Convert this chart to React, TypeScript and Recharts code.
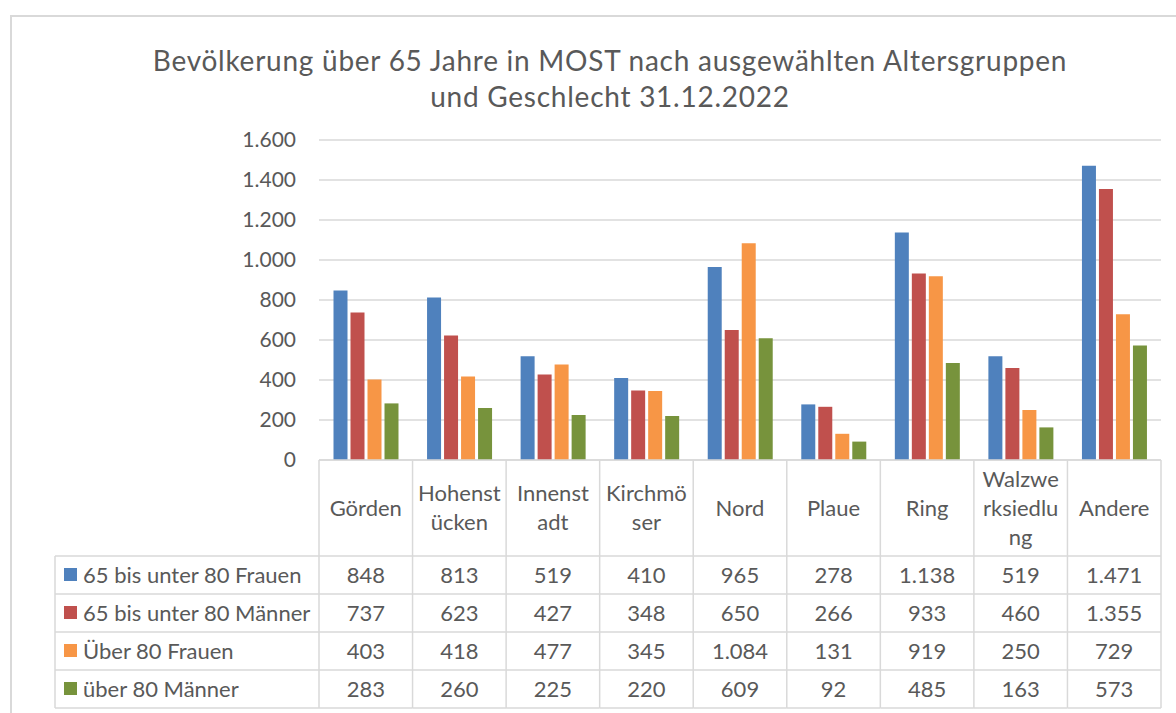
import React from 'react';
import { BarChart, Bar, XAxis, YAxis, CartesianGrid } from 'recharts';

const categories = ['Görden', 'Hohenstücken', 'Innenstadt', 'Kirchmöser', 'Nord', 'Plaue', 'Ring', 'Walzwerksiedlung', 'Andere'];
// header cell text, wrapped as in the table
const categoryLines = [
  ['Görden'],
  ['Hohenst', 'ücken'],
  ['Innenst', 'adt'],
  ['Kirchmö', 'ser'],
  ['Nord'],
  ['Plaue'],
  ['Ring'],
  ['Walzwe', 'rksiedlu', 'ng'],
  ['Andere'],
];

const seriesNames = ['65 bis unter 80 Frauen', '65 bis unter 80 Männer', 'Über 80 Frauen', 'über 80 Männer'];
const frauen65 = [848, 813, 519, 410, 965, 278, 1138, 519, 1471];
const maenner65 = [737, 623, 427, 348, 650, 266, 933, 460, 1355];
const frauen80 = [403, 418, 477, 345, 1084, 131, 919, 250, 729];
const maenner80 = [283, 260, 225, 220, 609, 92, 485, 163, 573];
const yTicks = [0, 200, 400, 600, 800, 1000, 1200, 1400, 1600];

const seriesKeys = ['f65', 'm65', 'f80', 'm80'];
const seriesValues = [frauen65, maenner65, frauen80, maenner80];
const seriesColors = ['#4F81BD', '#C0504D', '#F79646', '#77933C'];

const data = categories.map((name, i) => {
  const row: Record<string, string | number> = { name };
  seriesKeys.forEach((k, s) => (row[k] = seriesValues[s][i]));
  return row;
});

const fmt = (n: number) =>
  n >= 1000 ? `${Math.floor(n / 1000)}.${String(n % 1000).padStart(3, '0')}` : String(n);

const W = 1176;
const H = 713;
const PLOT_LEFT = 319;
const PLOT_RIGHT = 1161;
const HEADER_H = 96;
const ROW_H = 38;
const LEGEND_LEFT = 55;
const GRID = '#d9d9d9';
const TEXT = '#595959';
const FONT = 'Lato, "Open Sans", sans-serif';
const FS = 22;

const TableTick = (props: any) => {
  const { x, y, index } = props;
  const cw = (PLOT_RIGHT - PLOT_LEFT) / categories.length;
  const left = x - cw / 2;
  const right = x + cw / 2;
  const rowsTop = y + HEADER_H;
  const bottom = rowsTop + ROW_H * seriesNames.length;
  const lines = categoryLines[index] || [String(props.payload.value)];
  const mid = y + HEADER_H / 2;
  const lh = 29;

  return (
    <g fontFamily={FONT} fontSize={FS} fill={TEXT}>
      <line x1={left} y1={y} x2={left} y2={bottom} stroke={GRID} strokeWidth={1.5} />
      {index === categories.length - 1 && (
        <line x1={right} y1={y} x2={right} y2={bottom} stroke={GRID} strokeWidth={1.5} />
      )}
      {lines.map((t: string, i: number) => (
        <text key={i} x={x} y={mid + (i - (lines.length - 1) / 2) * lh} textAnchor="middle" dy="0.35em">
          {t}
        </text>
      ))}
      {seriesNames.map((_, r) => (
        <g key={r}>
          <line x1={left} y1={rowsTop + r * ROW_H} x2={right} y2={rowsTop + r * ROW_H} stroke={GRID} strokeWidth={1.5} />
          <text x={x} y={rowsTop + r * ROW_H + ROW_H / 2} textAnchor="middle" dy="0.35em">
            {fmt(seriesValues[r][index])}
          </text>
        </g>
      ))}
      <line x1={left} y1={bottom} x2={right} y2={bottom} stroke={GRID} strokeWidth={1.5} />
      {index === 0 && (
        <g>
          <line x1={LEGEND_LEFT} y1={rowsTop} x2={LEGEND_LEFT} y2={bottom} stroke={GRID} strokeWidth={1.5} />
          {seriesNames.map((name, r) => {
            const cy = rowsTop + r * ROW_H + ROW_H / 2;
            return (
              <g key={name}>
                <line x1={LEGEND_LEFT} y1={rowsTop + r * ROW_H} x2={left} y2={rowsTop + r * ROW_H} stroke={GRID} strokeWidth={1.5} />
                <rect x={LEGEND_LEFT + 9} y={cy - 7} width={13} height={13} fill={seriesColors[r]} />
                <text x={LEGEND_LEFT + 28} y={cy} dy="0.35em" textAnchor="start">
                  {name}
                </text>
              </g>
            );
          })}
          <line x1={LEGEND_LEFT} y1={bottom} x2={left} y2={bottom} stroke={GRID} strokeWidth={1.5} />
        </g>
      )}
    </g>
  );
};

export default function App() {
  return (
    <div style={{ position: 'absolute', left: 0, top: 0, width: W, height: H, overflow: 'hidden', background: '#fff' }}>
      <div
        style={{
          position: 'absolute',
          left: 10,
          top: 15,
          width: W + 40,
          height: H + 40,
          border: `2px solid ${GRID}`,
          boxSizing: 'border-box',
        }}
      />
      <div
        style={{
          position: 'absolute',
          left: 60,
          top: 42,
          width: 1100,
          textAlign: 'center',
          fontFamily: FONT,
          fontSize: 28,
          letterSpacing: 0.75,
          lineHeight: '36px',
          color: TEXT,
        }}
      >
        Bevölkerung über 65 Jahre in MOST nach ausgewählten Altersgruppen
        <br />
        und Geschlecht 31.12.2022
      </div>
      <div style={{ position: 'absolute', left: 0, top: 0 }}>
        <BarChart
          width={W}
          height={H}
          data={data}
          margin={{ top: 140, right: W - PLOT_RIGHT, bottom: 0, left: 239 }}
          barCategoryGap="15.5%"
          barGap={3}
        >
          <CartesianGrid horizontal vertical={false} stroke={GRID} strokeWidth={1.5} />
          <XAxis
            dataKey="name"
            height={253}
            interval={0}
            tickSize={0}
            tickMargin={0}
            axisLine={{ stroke: GRID, strokeWidth: 1.5 }}
            tickLine={false}
            tick={(p: any) => <TableTick {...p} />}
          />
          <YAxis
            width={80}
            domain={[0, 1600]}
            ticks={yTicks}
            interval={0}
            axisLine={false}
            tickLine={false}
            tickSize={0}
            tickMargin={23}
            tickFormatter={fmt}
            tick={{ fill: TEXT, fontSize: 21, fontFamily: FONT }}
          />
          {seriesKeys.map((k, s) => (
            <Bar key={k} dataKey={k} name={seriesNames[s]} fill={seriesColors[s]} isAnimationActive={false} />
          ))}
        </BarChart>
      </div>
    </div>
  );
}
